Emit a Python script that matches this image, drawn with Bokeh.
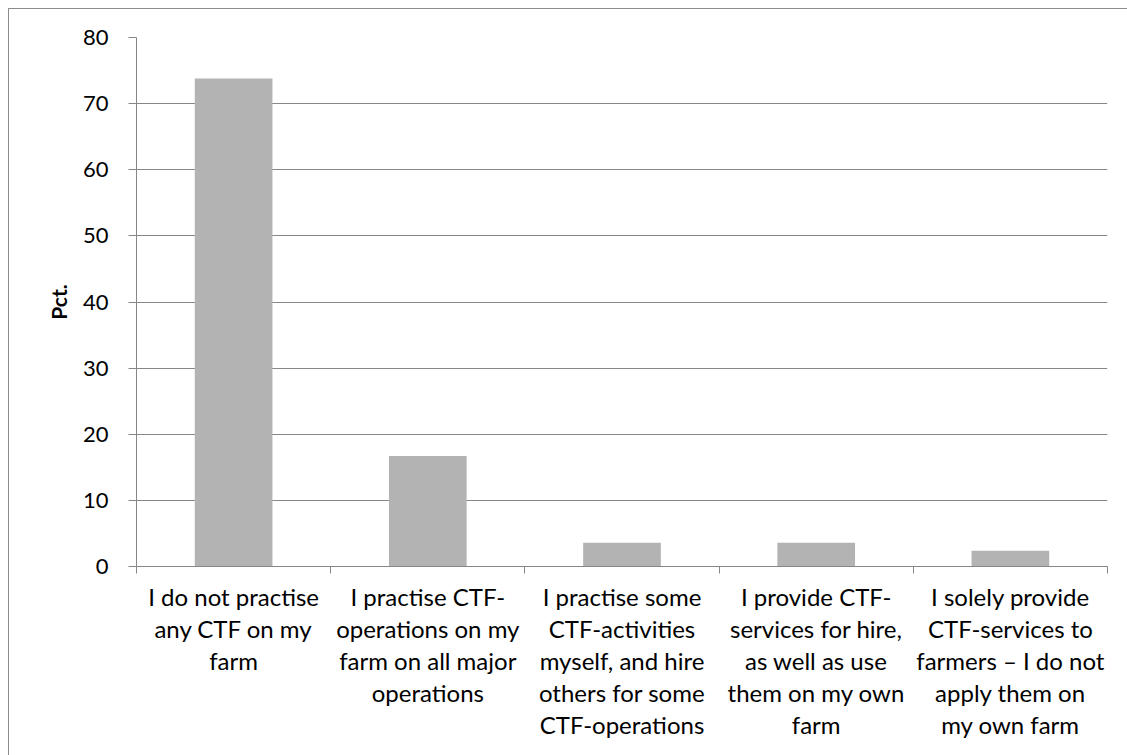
from bokeh.plotting import figure
from bokeh.models import Range1d, FixedTicker, ColumnDataSource
from bokeh.embed import file_html
from bokeh.resources import INLINE

categories = [
    "I do not practise\nany CTF on my\nfarm",
    "I practise CTF-\noperations on my\nfarm on all major\noperations",
    "I practise some\nCTF-activities\nmyself, and hire\nothers for some\nCTF-operations",
    "I provide CTF-\nservices for hire,\nas well as use\nthem on my own\nfarm",
    "I solely provide\nCTF-services to\nfarmers \u2013 I do not\napply them on\nmy own farm",
]
values = [73.8, 16.7, 3.6, 3.6, 2.4]
y_ticks = [0, 10, 20, 30, 40, 50, 60, 70, 80]

xs = [i + 1 for i in range(len(categories))]
bounds = [i + 0.5 for i in range(len(categories) + 1)]

FONT = "Lato"
GREY = "#868686"

p = figure(width=1119, height=747, output_backend="svg", toolbar_location=None,
           x_range=Range1d(0.5, len(categories) + 0.5), y_range=Range1d(0, 80),
           min_border_left=127, min_border_top=28, min_border_right=21, min_border_bottom=190)
p.outline_line_color = None
p.background_fill_color = "white"
p.border_fill_color = "white"
p.styles = {"border-left": "1px solid #8c8c8c", "border-top": "1px solid #8c8c8c",
            "margin-left": "8px", "margin-top": "8px"}

src = ColumnDataSource(dict(x=xs, top=values))
p.vbar(x="x", top="top", width=0.4, bottom=0, source=src, fill_color="#b3b3b3", line_color=None)

# grid
p.xgrid.grid_line_color = None
p.ygrid.ticker = FixedTicker(ticks=y_ticks)
p.ygrid.grid_line_color = GREY
p.ygrid.grid_line_width = 1

# y axis
p.yaxis.ticker = FixedTicker(ticks=y_ticks)
p.yaxis.axis_line_color = GREY
p.yaxis.major_tick_line_color = GREY
p.yaxis.major_tick_out = 8
p.yaxis.major_tick_in = 0
p.yaxis.minor_tick_line_color = None
p.yaxis.major_label_standoff = 20
p.yaxis.major_label_text_font = FONT
p.yaxis.major_label_text_font_size = "22px"
p.yaxis.major_label_text_color = "black"
p.yaxis.axis_label = "Pct."
p.yaxis.axis_label_text_font = FONT
p.yaxis.axis_label_text_font_size = "21px"
p.yaxis.axis_label_text_font_style = "bold"
p.yaxis.axis_label_text_color = "black"
p.yaxis.axis_label_standoff = 9

# x axis
p.xaxis.ticker = FixedTicker(ticks=xs, minor_ticks=bounds)
p.xaxis.major_label_overrides = {x: c for x, c in zip(xs, categories)}
p.xaxis.axis_line_color = GREY
p.xaxis.major_tick_line_color = None
p.xaxis.major_tick_out = 0
p.xaxis.major_tick_in = 0
p.xaxis.minor_tick_line_color = GREY
p.xaxis.minor_tick_out = 7
p.xaxis.minor_tick_in = 0
p.xaxis.major_label_standoff = 8
p.xaxis.major_label_text_font = FONT
p.xaxis.major_label_text_font_size = "24px"
p.xaxis.major_label_text_color = "black"
p.xaxis.major_label_text_line_height = 1.11

open("out.html", "w").write(file_html(p, INLINE))
